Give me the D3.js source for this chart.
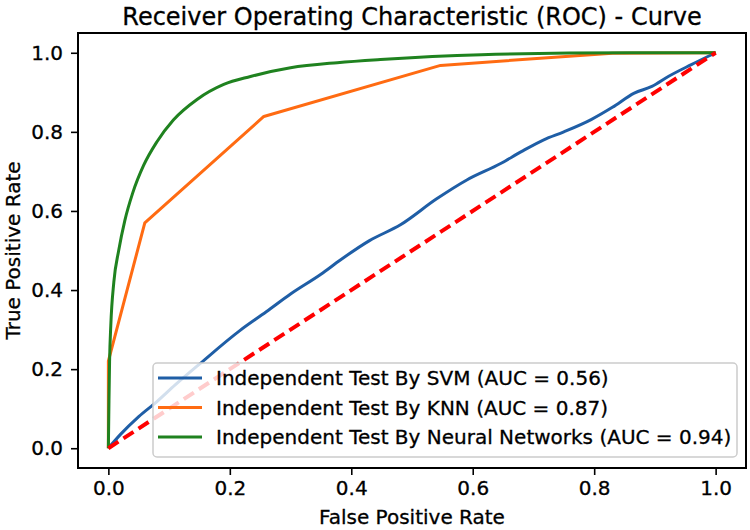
<!DOCTYPE html>
<html>
<head>
<meta charset="utf-8">
<script src="https://cdn.jsdelivr.net/npm/d3@7"></script>
<style>
  body { margin: 0; background: #fff; }
  text { font-family: "DejaVu Sans", sans-serif; fill: #000; stroke: #000; stroke-width: 0.3px; }
</style>
</head>
<body>
<svg id="chart" width="750" height="530"></svg>
<script>
// ---- Data ----
const seriesNames = [
  "Independent Test By SVM (AUC = 0.56)",
  "Independent Test By KNN (AUC = 0.87)",
  "Independent Test By Neural Networks (AUC = 0.94)"
];
const seriesColors = ["#1f5ea6", "#ff6b12", "#1f821f"];

const svmFpr = [0, 0.02, 0.05, 0.08, 0.11, 0.151, 0.217, 0.26, 0.30, 0.35, 0.382, 0.43, 0.481, 0.54, 0.591, 0.646, 0.68, 0.717, 0.75, 0.795, 0.83, 0.866, 0.895, 0.922, 0.96, 1];
const svmTpr = [0, 0.035, 0.08, 0.118, 0.16, 0.214, 0.298, 0.345, 0.39, 0.44, 0.476, 0.525, 0.565, 0.63, 0.679, 0.72, 0.75, 0.78, 0.80, 0.831, 0.862, 0.898, 0.915, 0.94, 0.97, 1];

const knnFpr = [0, 0, 0.060, 0.256, 0.547, 0.83, 1];
const knnTpr = [0, 0.22, 0.570, 0.839, 0.968, 0.999, 1];

const nnFpr = [0, 0.001, 0.002, 0.004, 0.009, 0.017, 0.027, 0.040, 0.058, 0.080, 0.107, 0.146, 0.19, 0.234, 0.30, 0.377, 0.448, 0.614, 0.861, 1];
const nnTpr = [0, 0.12, 0.22, 0.31, 0.42, 0.50, 0.575, 0.645, 0.715, 0.775, 0.83, 0.882, 0.92, 0.94, 0.962, 0.975, 0.983, 0.995, 1.0, 1];

const diagFpr = [0, 1];
const diagTpr = [0, 1];

const tickValues = [0, 0.2, 0.4, 0.6, 0.8, 1.0];
const titleText = "Receiver Operating Characteristic (ROC) - Curve";
const xLabel = "False Positive Rate";
const yLabel = "True Positive Rate";

// ---- Layout ----
const svg = d3.select("#chart");
const frame = { left: 78, right: 746, top: 33, bottom: 468 };
const x = d3.scaleLinear().domain([-0.05, 1.05]).range([frame.left, frame.right]);
const y = d3.scaleLinear().domain([-0.05, 1.05]).range([frame.bottom, frame.top]);

const zip = (a, b) => a.map((v, i) => [v, b[i]]);
const series = [zip(svmFpr, svmTpr), zip(knnFpr, knnTpr), zip(nnFpr, nnTpr)];
const curves = [d3.curveMonotoneX, d3.curveLinear, d3.curveMonotoneX];

const plot = svg.append("g");
plot.append("defs").append("clipPath").attr("id", "clip")
  .append("rect").attr("x", frame.left).attr("y", frame.top)
  .attr("width", frame.right - frame.left).attr("height", frame.bottom - frame.top);

const lines = plot.append("g").attr("clip-path", "url(#clip)");
series.forEach((s, i) => {
  const line = d3.line().x(d => x(d[0])).y(d => y(d[1])).curve(curves[i]);
  lines.append("path").datum(s).attr("d", line)
    .attr("fill", "none").attr("stroke", seriesColors[i])
    .attr("stroke-width", 3).attr("stroke-linejoin", "round").attr("stroke-linecap", "butt");
});
const diagLine = d3.line().x(d => x(d[0])).y(d => y(d[1]));
lines.append("path").datum(zip(diagFpr, diagTpr)).attr("d", diagLine)
  .attr("fill", "none").attr("stroke", "#ff0000").attr("stroke-width", 4)
  .attr("stroke-dasharray", "12,6");

// ---- Axes ----
const fs = 20;
const xAxis = svg.append("g").attr("transform", `translate(0,${frame.bottom})`)
  .call(d3.axisBottom(x).tickValues(tickValues).tickFormat(d3.format(".1f")).tickSize(7).tickPadding(6));
const yAxis = svg.append("g").attr("transform", `translate(${frame.left},0)`)
  .call(d3.axisLeft(y).tickValues(tickValues).tickFormat(d3.format(".1f")).tickSize(7).tickPadding(8));
[xAxis, yAxis].forEach(a => {
  a.select(".domain").remove();
  a.selectAll(".tick line").attr("stroke", "#000").attr("stroke-width", 1.6);
  a.selectAll(".tick text").style("font-family", '"DejaVu Sans", sans-serif').style("font-size", fs + "px")
    .attr("fill", "#000").style("stroke", "#000").style("stroke-width", "0.3px");
});

// frame
svg.append("rect").attr("x", frame.left).attr("y", frame.top)
  .attr("width", frame.right - frame.left).attr("height", frame.bottom - frame.top)
  .attr("fill", "none").attr("stroke", "#000").attr("stroke-width", 2);

// title and labels
svg.append("text").attr("x", (frame.left + frame.right) / 2).attr("y", 25)
  .attr("text-anchor", "middle").style("font-size", "24px").text(titleText);
svg.append("text").attr("x", (frame.left + frame.right) / 2).attr("y", 524)
  .attr("text-anchor", "middle").style("font-size", fs + "px").text(xLabel);
svg.append("text").attr("transform", `translate(20,${(frame.top + frame.bottom) / 2}) rotate(-90)`)
  .attr("text-anchor", "middle").style("font-size", fs + "px").text(yLabel);

// ---- Legend ----
const lg = svg.append("g");
lg.append("rect").attr("x", 153).attr("y", 363).attr("width", 584).attr("height", 94)
  .attr("rx", 4).attr("fill", "rgba(255,255,255,0.8)").attr("stroke", "#cccccc").attr("stroke-width", 1.5);
seriesNames.forEach((name, i) => {
  const yy = 378 + i * 29.5;
  lg.append("line").attr("x1", 158).attr("x2", 202).attr("y1", yy).attr("y2", yy)
    .attr("stroke", seriesColors[i]).attr("stroke-width", 3);
  lg.append("text").attr("x", 216).attr("y", yy + 7).style("font-size", fs + "px").text(name);
});
</script>
</body>
</html>
